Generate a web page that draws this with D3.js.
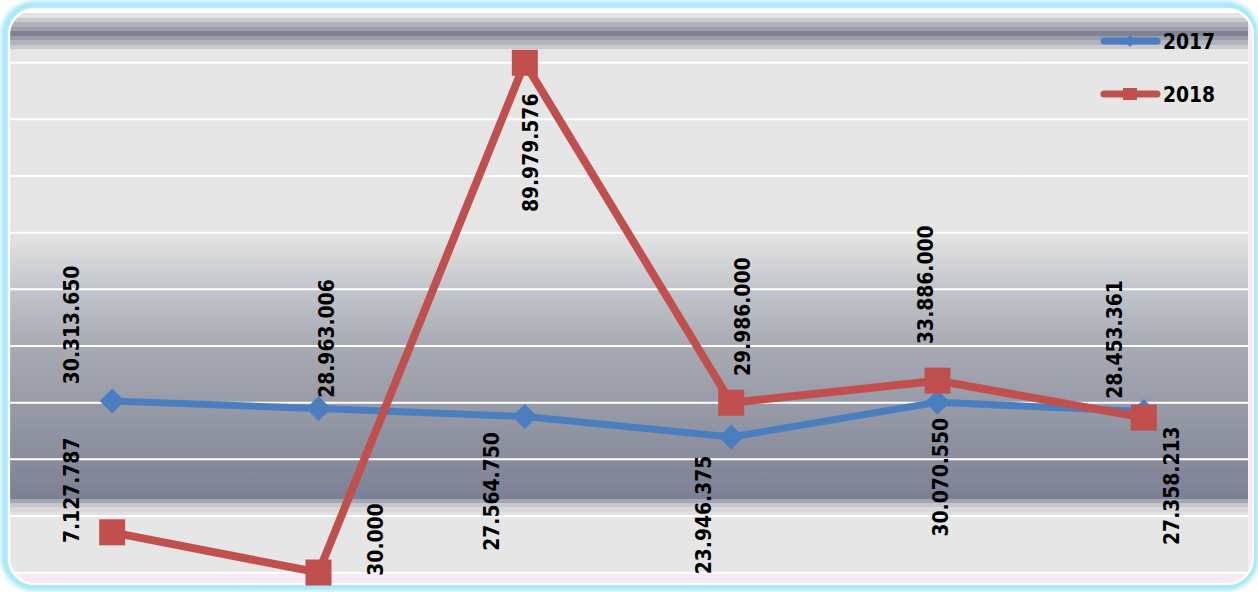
<!DOCTYPE html>
<html><head><meta charset="utf-8">
<script src="https://cdn.jsdelivr.net/npm/d3@7"></script>
<style>html,body{margin:0;padding:0;background:#fff;overflow:hidden}</style>
</head><body>
<svg id="chart" width="1258" height="592"></svg>
<script>
// ---- data ----
const categories = ["1", "2", "3", "4", "5", "6"];
const seriesNames = ["2017", "2018"];
const values2017 = [30313650, 28963006, 27564750, 23946375, 30070550, 28453361];
const values2018 = [7127787, 30000, 89979576, 29986000, 33886000, 27358213];
const yTicks = [0, 10000000, 20000000, 30000000, 40000000, 50000000, 60000000, 70000000, 80000000, 90000000];
// label offsets (text centre relative to the point)
const labelOffsets2017 = [[-40,-76],[9,-70],[-33,75],[-27,78],[4,75],[-29,-72]];
const labelOffsets2018 = [[-40,-42],[58,-33],[6,90],[12,-86],[-11,-96],[28,68]];

const svg = d3.select("#chart");
const W = 1258, H = 592;
const plot = {x0: 9, x1: 1248, y0: 10, y1: 573};
const FONT = "'DejaVu Sans', Verdana, sans-serif";

const fmt = d3.formatLocale({decimal: ",", thousands: ".", grouping: [3], currency: ["", ""]}).format(",d");

const x = d3.scaleBand().domain(categories).range([9, 1247]);
const y = d3.scaleLinear().domain([0, 90000000]).range([572.7, 62.7]);

const defs = svg.append("defs");
const blur = defs.append("filter").attr("id", "glow").attr("x", "-5%").attr("y", "-5%").attr("width", "110%").attr("height", "110%");
blur.append("feGaussianBlur").attr("stdDeviation", 2.2);

const g = defs.append("linearGradient").attr("id", "bg").attr("gradientUnits", "userSpaceOnUse")
  .attr("x1", 0).attr("x2", 0).attr("y1", 0).attr("y2", H);
const stops = [
  [10,"#ffffff"],[12.5,"#ffffff"],[12.6,"#e4e4e8"],[17.5,"#e4e4e8"],
  [17.6,"#c8cad0"],[22,"#c8cad0"],[22.1,"#b0b3bc"],[27,"#b0b3bc"],
  [27.1,"#9da0ab"],[31,"#9da0ab"],[31.1,"#7e8294"],[36,"#7e8294"],
  [36.1,"#9a9daa"],[40,"#9a9daa"],[40.1,"#b0b3bc"],[45,"#b0b3bc"],
  [45.1,"#c8cad0"],[49,"#c8cad0"],[49.1,"#e6e6e6"],
  [232,"#e5e5e5"],[290,"#c2c4ca"],[345,"#a8abb4"],[400,"#999ca8"],[459,"#888c9c"],[498.5,"#7c8095"],
  [498.6,"#a4a7b1"],[503,"#a4a7b1"],[503.1,"#c5c7cd"],[507,"#c5c7cd"],[507.1,"#d9d9dd"],[512,"#d9d9dd"],
  [512.1,"#e0e0e2"],[515,"#e0e0e2"],[515.1,"#e6e6e6"],[592,"#e6e6e6"]
];
g.selectAll("stop").data(stops).join("stop")
  .attr("offset", d => d[0] / H).attr("stop-color", d => d[1]);

defs.append("clipPath").attr("id", "frameClip").append("rect")
  .attr("x", 9).attr("y", 9).attr("width", 1244).attr("height", 575).attr("rx", 26);

// outer glow
svg.append("rect").attr("x", 5).attr("y", 5).attr("width", 1250).attr("height", 582).attr("rx", 29)
  .attr("fill", "none").attr("stroke", "#9fe6f8").attr("stroke-width", 7).attr("filter", "url(#glow)");

const frame = svg.append("g").attr("clip-path", "url(#frameClip)");
frame.append("rect").attr("x", 0).attr("y", 0).attr("width", W).attr("height", H).attr("fill", "#f9e8f8");
frame.append("rect").attr("x", plot.x0).attr("y", plot.y0).attr("width", plot.x1 - plot.x0).attr("height", plot.y1 - plot.y0)
  .attr("fill", "url(#bg)");

// gridlines
frame.append("g").selectAll("line").data(yTicks).join("line")
  .attr("x1", plot.x0).attr("x2", plot.x1)
  .attr("y1", d => y(d)).attr("y2", d => y(d))
  .attr("stroke", "#ffffff").attr("stroke-width", 2);

// white border
svg.append("rect").attr("x", 9).attr("y", 9).attr("width", 1244).attr("height", 575).attr("rx", 26)
  .attr("fill", "none").attr("stroke", "#ffffff").attr("stroke-width", 2.2);

const series = [
  {name: seriesNames[0], values: values2017, color: "#4a7ebf", width: 7, shape: "diamond", offs: labelOffsets2017},
  {name: seriesNames[1], values: values2018, color: "#c0504d", width: 8, shape: "square", offs: labelOffsets2018}
];
const cx = c => x(c) + x.bandwidth() / 2;
const line = d3.line().x((d, i) => cx(categories[i])).y(d => y(d));

series.forEach(s => {
  const gs = svg.append("g");
  gs.append("path").attr("d", line(s.values)).attr("fill", "none")
    .attr("stroke", s.color).attr("stroke-width", s.width).attr("stroke-linejoin", "round");
  if (s.shape === "diamond") {
    gs.selectAll("path.m").data(s.values).join("path").attr("class", "m")
      .attr("d", (d, i) => { const px = cx(categories[i]), py = y(d), r = 12.5;
        return `M${px},${py - r}L${px + r},${py}L${px},${py + r}L${px - r},${py}Z`; })
      .attr("fill", s.color);
  } else {
    gs.selectAll("rect.m").data(s.values).join("rect").attr("class", "m")
      .attr("x", (d, i) => cx(categories[i]) - 13).attr("y", d => y(d) - 13)
      .attr("width", 26).attr("height", 26).attr("fill", s.color);
  }
});

// labels
series.forEach(s => {
  svg.append("g").selectAll("text").data(s.values).join("text")
    .attr("transform", (d, i) => `translate(${cx(categories[i]) + s.offs[i][0]},${y(d) + s.offs[i][1]}) rotate(-90) scale(0.915,1)`)
    .attr("text-anchor", "middle").attr("dominant-baseline", "central")
    .attr("font-family", FONT).attr("font-weight", "bold")
    .attr("font-size", 20.5).attr("fill", "#000")
    .text(d => fmt(d));
});

// legend
const leg = svg.append("g");
const legY = [41, 94];
series.forEach((s, i) => {
  const ly = legY[i];
  leg.append("line").attr("x1", 1104).attr("x2", 1157).attr("y1", ly).attr("y2", ly)
    .attr("stroke", s.color).attr("stroke-width", 7).attr("stroke-linecap", "round");
  if (s.shape === "diamond") {
    leg.append("path").attr("d", `M1130,${ly - 6}L1136,${ly}L1130,${ly + 6}L1124,${ly}Z`).attr("fill", s.color);
  } else {
    leg.append("rect").attr("x", 1123).attr("y", ly - 6).attr("width", 14).attr("height", 12).attr("fill", s.color);
  }
  leg.append("text").attr("transform", `translate(1163,${ly + 7.5}) scale(0.915,1)`)
    .attr("font-family", FONT).attr("font-weight", "bold")
    .attr("font-size", 20.5).attr("fill", "#000").text(s.name);
});
</script>
</body></html>
